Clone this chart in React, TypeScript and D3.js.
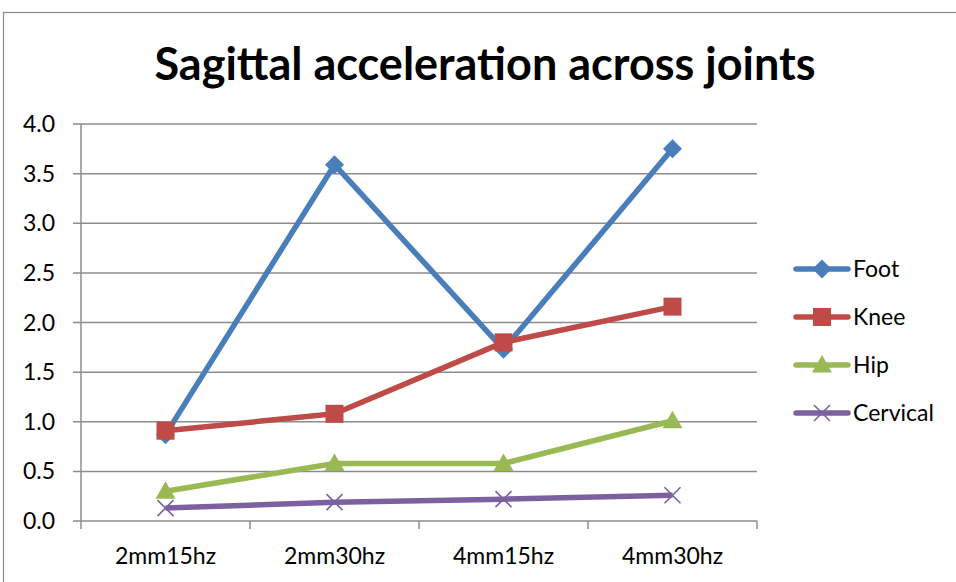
import React from "react";
import * as d3 from "d3";

const categories = ["2mm15hz", "2mm30hz", "4mm15hz", "4mm30hz"];
const seriesNames = ["Foot", "Knee", "Hip", "Cervical"];
const footValues = [0.87, 3.59, 1.73, 3.75];
const kneeValues = [0.91, 1.08, 1.8, 2.16];
const hipValues = [0.3, 0.58, 0.58, 1.01];
const cervicalValues = [0.13, 0.19, 0.22, 0.26];
const yTicks = [0, 0.5, 1, 1.5, 2, 2.5, 3, 3.5, 4];

const colors = ["#4A7EBB", "#BE4B48", "#98B954", "#7D60A0"];
const markerKinds = ["diamond", "square", "triangle", "cross"];
const allValues = [footValues, kneeValues, hipValues, cervicalValues];

const W = 956;
const H = 582;
const left = 81;
const right = 757;
const top = 124;
const bottom = 521;
const FONT = "Lato, 'Open Sans', sans-serif";

function Marker({ kind, x, y, color }: { kind: string; x: number; y: number; color: string }) {
  if (kind === "diamond") {
    const r = 9.5;
    return <path d={`M${x},${y - r}L${x + r},${y}L${x},${y + r}L${x - r},${y}Z`} fill={color} />;
  }
  if (kind === "square") {
    const r = 9;
    return <rect x={x - r} y={y - r} width={2 * r} height={2 * r} fill={color} />;
  }
  if (kind === "triangle") {
    const r = 10;
    return <path d={`M${x},${y - r}L${x + r},${y + r * 0.75}L${x - r},${y + r * 0.75}Z`} fill={color} />;
  }
  const r = 8;
  return (
    <path
      d={`M${x - r},${y - r}L${x + r},${y + r}M${x - r},${y + r}L${x + r},${y - r}`}
      stroke={color}
      strokeWidth={1.6}
      fill="none"
    />
  );
}

export default function App() {
  const x = d3.scaleBand<string>().domain(categories).range([left, right]);
  const y = d3.scaleLinear().domain([0, 4]).range([bottom, top]);
  const cx = (c: string) => (x(c) as number) + x.bandwidth() / 2;
  const line = d3
    .line<number>()
    .x((_, i) => cx(categories[i]))
    .y((v) => y(v));

  const boundaries = categories.map((c) => x(c) as number).concat([right]);
  const legendY = [269, 317, 365, 413];

  return (
    <svg width={W} height={H} style={{ position: "absolute", left: 0, top: 0, background: "#fff" }}>
      <rect x={3.5} y={12.5} width={W + 10} height={H + 10} fill="#fff" stroke="#888" strokeWidth={1.2} />
      <text x={485} y={80} textAnchor="middle" fontFamily={FONT} fontWeight={700} fontSize={45} fill="#000">
        Sagittal acceleration across joints
      </text>

      {yTicks.map((t) => (
        <g key={t}>
          <line x1={left - 8} x2={right} y1={y(t)} y2={y(t)} stroke="#8c8c8c" strokeWidth={1.5} />
          <text x={55} y={y(t) + 8} textAnchor="end" fontFamily={FONT} fontSize={23} fill="#000">
            {t.toFixed(1)}
          </text>
        </g>
      ))}
      <line x1={left} x2={left} y1={top} y2={bottom} stroke="#8c8c8c" strokeWidth={1.5} />
      {boundaries.map((b, i) => (
        <line key={i} x1={b} x2={b} y1={bottom} y2={bottom + 8} stroke="#8c8c8c" strokeWidth={1.5} />
      ))}
      {categories.map((c) => (
        <text key={c} x={cx(c)} y={564} textAnchor="middle" fontFamily={FONT} fontSize={23} fill="#000">
          {c}
        </text>
      ))}

      {allValues.map((vals, si) => (
        <g key={seriesNames[si]}>
          <path d={line(vals) || ""} fill="none" stroke={colors[si]} strokeWidth={5.5} strokeLinejoin="round" />
          {vals.map((v, i) => (
            <Marker key={i} kind={markerKinds[si]} x={cx(categories[i])} y={y(v)} color={colors[si]} />
          ))}
        </g>
      ))}

      {seriesNames.map((name, si) => (
        <g key={name}>
          <line x1={796} x2={848} y1={legendY[si]} y2={legendY[si]} stroke={colors[si]} strokeWidth={5.5} strokeLinecap="round" />
          <Marker kind={markerKinds[si]} x={822} y={legendY[si]} color={colors[si]} />
          <text x={853} y={legendY[si] + 8} fontFamily={FONT} fontSize={23} fill="#000">
            {name}
          </text>
        </g>
      ))}
    </svg>
  );
}
